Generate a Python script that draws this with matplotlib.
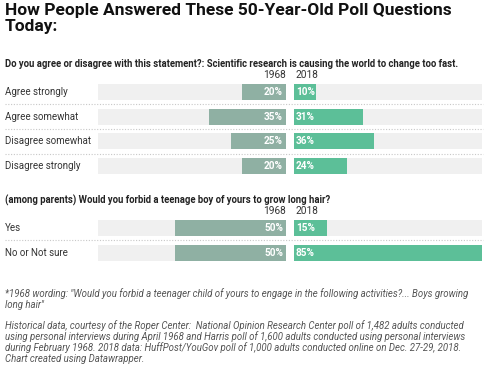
import matplotlib
matplotlib.use("Agg")
import matplotlib.pyplot as plt
from matplotlib.lines import Line2D
import matplotlib.transforms as mtransforms

# ---- data ----
q1_title = "Do you agree or disagree with this statement?: Scientific research is causing the world to change too fast."
q1_categories = ["Agree strongly", "Agree somewhat", "Disagree somewhat", "Disagree strongly"]
q1_1968 = [20, 35, 25, 20]
q1_2018 = [10, 31, 36, 24]

q2_title = "(among parents) Would you forbid a teenage boy of yours to grow long hair?"
q2_categories = ["Yes", "No or Not sure"]
q2_1968 = [50, 50]
q2_2018 = [15, 85]

years = ["1968", "2018"]

title = "How People Answered These 50-Year-Old Poll Questions\nToday:"
note_lines = [
    "*1968 wording: \"Would you forbid a teenager child of yours to engage in the following activities?... Boys growing",
    "long hair\"",
]
source_lines = [
    "Historical data, courtesy of the Roper Center:  National Opinion Research Center poll of 1,482 adults conducted",
    "using personal interviews during April 1968 and Harris poll of 1,600 adults conducted using personal interviews",
    "during February 1968. 2018 data: HuffPost/YouGov poll of 1,000 adults conducted online on Dec. 27-29, 2018.",
    "Chart created using Datawrapper.",
]

# ---- style ----
W, H = 491, 367
C1968 = "#8fb0a3"
C2018 = "#5cbf98"
BG = "#f0f0f0"
TXT = "#333333"
FONT = "Roboto"
plt.rcParams["font.family"] = [FONT, "DejaVu Sans"]

fig = plt.figure(figsize=(W / 100, H / 100), dpi=100)
fig.patch.set_facecolor("white")

def fx(x):
    return x / W

def fy(y):
    return 1 - y / H

scale_max = max(max(q1_1968), max(q1_2018), max(q2_1968), max(q2_2018))
PITCH = 24.7
BAR_H = 16 / PITCH
PAD = BAR_H / 2

# Title
fig.text(fx(5), fy(3), title, ha="left", va="top", fontsize=12.5, fontweight="bold",
         color="#111111", linespacing=1.12)


def draw_group(qtitle, cats, v68, v18, title_y, year_y, top_y):
    n = len(cats)
    h_px = (n - 1 + 2 * PAD) * PITCH
    fig.text(fx(5), fy(title_y), qtitle, ha="left", va="center", fontsize=6.85,
             fontweight="bold", color="#222222")
    fig.text(fx(286), fy(year_y), years[0], ha="right", va="center", fontsize=7.3, color=TXT)
    fig.text(fx(296), fy(year_y), years[1], ha="left", va="center", fontsize=7.3, color=TXT)

    axL = fig.add_axes([fx(98), fy(top_y + h_px), 188 / W, h_px / H])
    axR = fig.add_axes([fx(294), fy(top_y + h_px), 188 / W, h_px / H])
    ys = list(range(n))
    for ax, vals, col, sign in ((axL, v68, C1968, -1), (axR, v18, C2018, 1)):
        ax.barh(ys, [scale_max] * n, height=BAR_H, color=BG, linewidth=0)
        ax.barh(ys, vals, height=BAR_H, color=col, linewidth=0)
        ax.set_xlim(0, scale_max)
        ax.set_ylim(n - 1 + PAD, -PAD)
        ax.axis("off")
        for y, v in zip(ys, vals):
            off = mtransforms.offset_copy(ax.transData, fig=fig, x=-3 * 0.72 if sign < 0 else 2 * 0.72,
                                          y=0, units="points")
            ax.text(0, y, f"{v}%", transform=off, ha="right" if sign < 0 else "left",
                    va="center", fontsize=7.2, fontweight="bold", color="white")
    axL.invert_xaxis()

    tr = mtransforms.blended_transform_factory(fig.transFigure, axL.transData)
    for y, c in zip(ys, cats):
        fig.text(fx(5), y, c, transform=tr, ha="left", va="center", fontsize=7.0, color=TXT)
    for i in range(n - 1):
        fig.add_artist(Line2D([fx(5), fx(483)], [i + 0.5, i + 0.5], transform=tr,
                              color="#c8c8c8", lw=0.8, linestyle=(0, (1, 1.5))))


draw_group(q1_title, q1_categories, q1_1968, q1_2018, 64, 75, 84)
draw_group(q2_title, q2_categories, q2_1968, q2_2018, 200, 211, 220)

for i, line in enumerate(note_lines):
    fig.text(fx(5), fy(294 + i * 10.5), line, ha="left", va="center", fontsize=6.95,
             fontstyle="italic", color="#555555")
for i, line in enumerate(source_lines):
    fig.text(fx(5), fy(326 + i * 11), line, ha="left", va="center", fontsize=6.95,
             fontstyle="italic", color="#555555")

fig.savefig("out.png", dpi=100)
